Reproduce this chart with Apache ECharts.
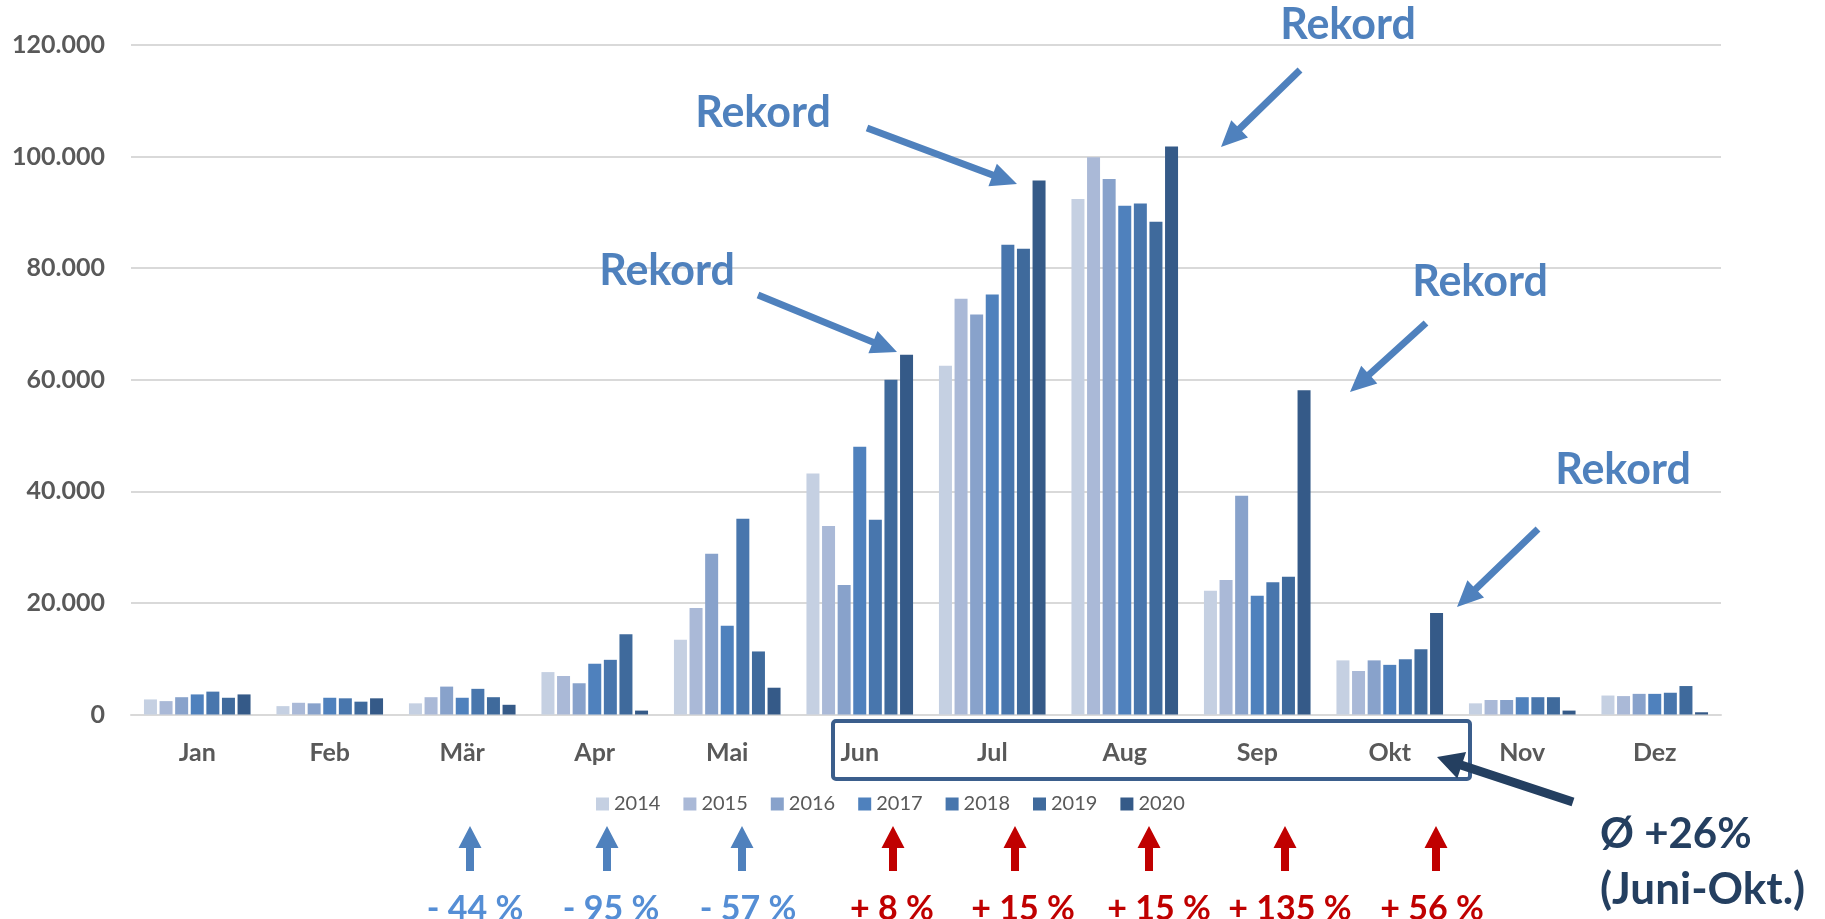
<!DOCTYPE html>
<html>
<head>
<meta charset="utf-8">
<script src="https://cdn.jsdelivr.net/npm/echarts@6/dist/echarts.min.js"></script>
<style>
html,body{margin:0;padding:0;background:#fff;}
#c{width:1825px;height:919px;}
</style>
</head>
<body>
<div id="c"></div>
<script>
const months = ['Jan','Feb','Mär','Apr','Mai','Jun','Jul','Aug','Sep','Okt','Nov','Dez'];
const years = ['2014','2015','2016','2017','2018','2019','2020'];
const v2014 = [2700,1500,2000,7600,13400,43200,62500,92400,22200,9700,2000,3400];
const v2015 = [2400,2100,3100,6900,19100,33800,74500,99900,24100,7800,2600,3300];
const v2016 = [3100,2000,5000,5600,28800,23200,71700,96000,39200,9700,2600,3700];
const v2017 = [3600,3000,3000,9100,15900,48000,75300,91200,21300,8900,3100,3700];
const v2018 = [4100,2900,4600,9800,35100,34900,84200,91600,23700,9900,3100,3900];
const v2019 = [3000,2300,3100,14400,11300,60000,83500,88300,24700,11700,3100,5100];
const v2020 = [3600,2900,1740,700,4800,64500,95700,101800,58100,18200,700,400];
const yTicks = [0,20000,40000,60000,80000,100000,120000];
const pctLabels = ['- 44 %','- 95 %','- 57 %','+ 8 %','+ 15 %','+ 15 %','+ 135 %','+ 56 %'];
const recordText = 'Rekord';
const avgText = ['Ø +26%','(Juni-Okt.)'];

const seriesValues = [v2014,v2015,v2016,v2017,v2018,v2019,v2020];
const colors = ['#c5d0e2','#aab9d7','#88a2cb','#4f81bd','#4876ad','#3f6a9c','#355a88'];
const FONT = "Lato, 'Liberation Sans', sans-serif";

function fmt(v){ return String(v).replace(/\B(?=(\d{3})+(?!\d))/g,'.'); }

function arrowPoly(x1,y1,x2,y2,shaft,headLen,headW){
  const dx=x2-x1, dy=y2-y1, L=Math.hypot(dx,dy);
  const ux=dx/L, uy=dy/L, nx=-uy, ny=ux;
  const bx=x2-ux*headLen, by=y2-uy*headLen;
  const s=shaft/2, h=headW/2;
  return [[x1+nx*s,y1+ny*s],[bx+nx*s,by+ny*s],[bx+nx*h,by+ny*h],[x2,y2],
          [bx-nx*h,by-ny*h],[bx-nx*s,by-ny*s],[x1-nx*s,y1-ny*s]];
}

const graphics = [];
function addArrow(x1,y1,x2,y2,shaft,headLen,headW,color){
  graphics.push({type:'polygon', z:100, shape:{points:arrowPoly(x1,y1,x2,y2,shaft,headLen,headW)}, style:{fill:color}});
}
function addText(txt,x,y,size,color,align,weight){
  graphics.push({type:'text', z:100, x:x, y:y, style:{text:txt, fill:color, fontSize:size, fontFamily:FONT, fontWeight:weight||'bold', align:align||'center', verticalAlign:'middle'}});
}

const BLUE = '#4f81bd';
// Rekord annotations
const rek = [
  {tx:667, ty:271, a:[758,295,897,352]},
  {tx:763, ty:113, a:[867,128,1017,184]},
  {tx:1348, ty:25, a:[1300,70,1221,147]},
  {tx:1480, ty:282, a:[1426,323,1350,392]},
  {tx:1623, ty:470, a:[1538,529,1457,607]}
];
rek.forEach(r=>{
  addText(recordText, r.tx, r.ty, 43, BLUE, 'center');
  addArrow(r.a[0],r.a[1],r.a[2],r.a[3],7,26,24,BLUE);
});

// highlight box
graphics.push({type:'rect', z:100, shape:{x:833,y:721,width:637,height:58,r:3}, style:{fill:'none', stroke:'#3b5e8c', lineWidth:4}});
// dark arrow to box
const NAVY = '#243f60';
addArrow(1573,802,1437,757,9,26,28,NAVY);
addText(avgText[0], 1600, 834, 42, NAVY, 'left');
addText(avgText[1], 1600, 890, 44, NAVY, 'left');

// up arrows + percentages
const arrowX = [470,607,742,893,1015,1149,1285,1436];
const textX = [475,611,748,892,1023,1159,1290,1432];
arrowX.forEach((x,i)=>{
  const neg = i<3;
  addArrow(x,871,x,826,8,22,23, neg ? BLUE : '#c00000');
  addText(pctLabels[i], textX[i], 909, 34, neg ? '#558ed5' : '#c00000', 'center');
});

const chart = echarts.init(document.getElementById('c'));
chart.setOption({
  animation:false,
  backgroundColor:'#fff',
  grid:{left:131, right:104, top:45, bottom:204.5, containLabel:false},
  legend:{
    data:years, left:591, top:789, itemWidth:13, itemHeight:13, itemGap:23,
    icon:'rect',
    textStyle:{color:'#595959', fontSize:20, fontFamily:FONT}
  },
  xAxis:{
    type:'category', data:months,
    axisLine:{lineStyle:{color:'#d9d9d9', width:2}},
    axisTick:{show:false},
    axisLabel:{color:'#595959', fontSize:25, fontWeight:'bold', fontFamily:FONT, margin:26}
  },
  yAxis:{
    type:'value', min:yTicks[0], max:yTicks[yTicks.length-1], interval:yTicks[1]-yTicks[0],
    axisLine:{show:false}, axisTick:{show:false},
    splitLine:{lineStyle:{color:'#d9d9d9', width:2}},
    axisLabel:{color:'#595959', fontSize:25, fontWeight:'bold', fontFamily:FONT, margin:26, formatter:fmt}
  },
  series: years.map((y,i)=>({
    name:y, type:'bar', data:seriesValues[i], barWidth:13, barGap:'20%',
    itemStyle:{color:colors[i]}
  })),
  graphic: graphics
});
</script>
</body>
</html>
